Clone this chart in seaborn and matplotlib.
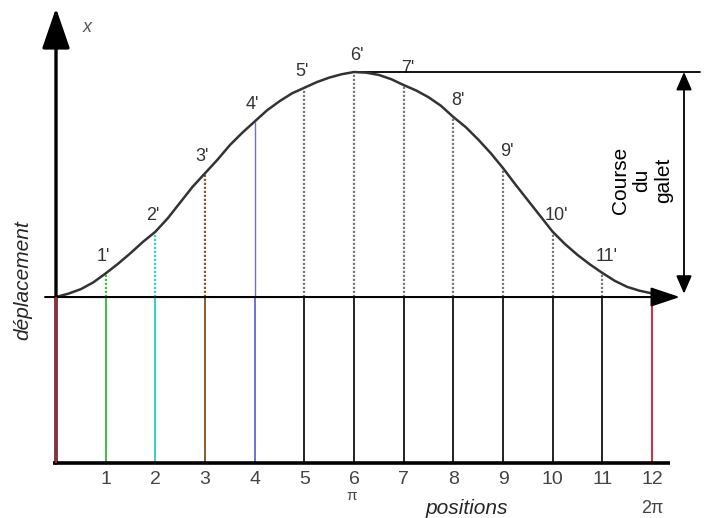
import numpy as np
import pandas as pd
import matplotlib
matplotlib.use("Agg")
import matplotlib.pyplot as plt
import seaborn as sns

# cam positions 0..12 (0 and 12 = 0 / 2*pi)
positions = list(range(13))
tick_labels = [str(p) for p in positions[1:]]
point_labels = ["1'", "2'", "3'", "4'", "5'", "6'", "7'", "8'", "9'", "10'", "11'"]

# displacement curve (1 = full stroke of the follower)
curve_x = [0, 0.25, 0.5, 0.75, 1, 1.25, 1.5, 1.75, 2, 2.25, 2.5, 2.75,
           3, 3.25, 3.5, 3.75, 4, 4.25, 4.5, 4.75, 5, 5.25, 5.5, 5.75,
           6, 6.25, 6.5, 6.75, 7, 7.25, 7.5, 7.75, 8, 8.25, 8.5, 8.75,
           9, 9.25, 9.5, 9.75, 10, 10.25, 10.5, 10.75, 11, 11.25, 11.5, 11.75,
           12, 12.45]
curve_y = [0, 0.015, 0.035, 0.065, 0.105, 0.148, 0.195, 0.245, 0.29, 0.35, 0.42, 0.49,
           0.55, 0.61, 0.675, 0.73, 0.78, 0.83, 0.87, 0.905, 0.93, 0.955, 0.975, 0.99,
           1.0, 0.997, 0.987, 0.968, 0.942, 0.918, 0.888, 0.85, 0.80, 0.755, 0.70, 0.64,
           0.573, 0.50, 0.43, 0.36, 0.29, 0.235, 0.187, 0.145, 0.107, 0.072, 0.045, 0.028,
           0.016, 0.0]

sns.set_style("white")
plt.rcParams["font.family"] = ["Liberation Sans", "DejaVu Sans"]

df = pd.DataFrame({"pos": curve_x, "rise": curve_y})
rise_at = dict(zip(curve_x, curve_y))

fig = plt.figure(figsize=(7.08, 5.18), dpi=100)
ax = fig.add_axes([0, 0, 1, 1])
ax.set_xlim(-1.1275, 13.127)
ax.set_ylim(-0.982, 1.32)
ax.axis("off")

bottom = -0.738

# colours of the position lines
line_colors = ["#d8263f", "#3cc13c", "#2fd3c4", "#8a5a2e", "#6f6fd6"] + ["#222222"] * 7 + ["#d8263f"]
dot_colors = [None, "#3cc13c", "#2fd3c4", "#8a5a2e", "#6f6fd6"] + ["#7a7a7a"] * 7 + [None]

# solid lines below the axis
ax.vlines(positions, bottom, 0, colors=line_colors, lw=1.4, zorder=2)

# dotted lines up to the curve
for p in positions[1:-1]:
    ls = "-" if p == 4 else (0, (1, 0.8))
    lw = 1.0 if p == 4 else 1.6
    ax.vlines(p, 0, rise_at[p], colors=dot_colors[p], lw=lw, linestyles=[ls], zorder=2)

# curve
sns.lineplot(data=df, x="pos", y="rise", ax=ax, color="#333333", lw=1.8, zorder=4)

# point labels
for p, lab in zip(positions[1:-1], point_labels):
    dx = -2 if p < 6 else (2 if p == 6 else 3)
    ax.annotate(lab, (p, rise_at[p]), xytext=(dx, 12), textcoords="offset points",
                ha="center", va="center", fontsize=13, color="#333333")

# bottom line
ax.plot([-0.06, 12.36], [bottom, bottom], color="black", lw=2.6, solid_capstyle="butt", zorder=3)

# horizontal axis with arrow
ax.annotate("", xy=(12.56, 0), xytext=(-0.22, 0),
            arrowprops=dict(arrowstyle="-|>,head_length=0.9,head_width=0.3", mutation_scale=20,
                            color="black", lw=1.5, shrinkA=0, shrinkB=0), zorder=5)

# vertical axis with arrow
ax.annotate("", xy=(0, 1.284), xytext=(0, bottom),
            arrowprops=dict(arrowstyle="-|>,head_length=1.25,head_width=0.43", mutation_scale=20,
                            color="black", lw=2.4, shrinkA=0, shrinkB=0), zorder=5)
ax.vlines(0, bottom, 0, colors="#d8263f", lw=1.2, zorder=6)

# stroke of the follower
ax.plot([6, 12.966], [1, 1], color="black", lw=1.3, zorder=3)
ax.annotate("", xy=(12.644, 1), xytext=(12.644, 0.015),
            arrowprops=dict(arrowstyle="<|-|>,head_length=0.55,head_width=0.24", mutation_scale=20,
                            color="black", lw=1.3, shrinkA=0, shrinkB=0))
ax.text(11.80, 0.52, "Course\ndu\ngalet", rotation=90, ha="center", va="center",
        multialignment="center", fontsize=15, color="black")

# tick labels
for p, lab in zip(positions[1:], tick_labels):
    ax.text(p, -0.809, lab, ha="center", va="center", fontsize=14, color="#444444")
ax.text(5.96, -0.884, "\u03c0", ha="center", va="center", fontsize=11, color="#444444")
ax.text(12.0, -0.942, "2\u03c0", ha="center", va="center", fontsize=13, color="#444444")

# axis titles
ax.text(8.275, -0.938, "positions", ha="center", va="center", fontsize=15, style="italic")
ax.text(-0.664, 0.0756, "d\u00e9placement", ha="center", va="center", rotation=90,
        fontsize=15, style="italic")
ax.text(0.624, 1.2, "x", ha="center", va="center", fontsize=13, style="italic", color="#555555")

fig.savefig("out.png", dpi=100)
